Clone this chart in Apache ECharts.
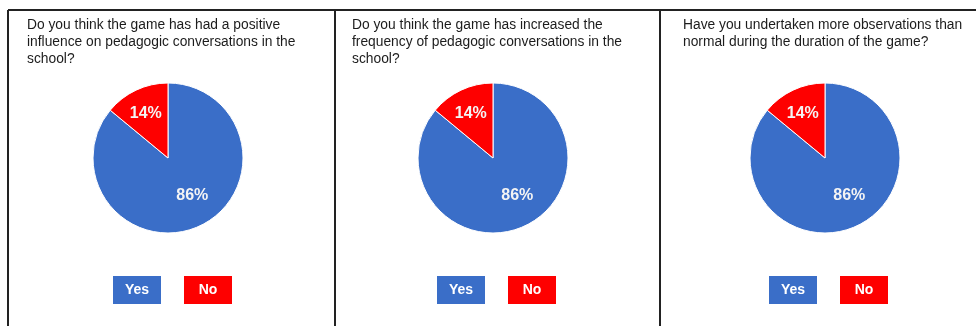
<!DOCTYPE html>
<html>
<head>
<meta charset="utf-8">
<script src="https://cdn.jsdelivr.net/npm/echarts@6/dist/echarts.min.js"></script>
<style>
  html, body { margin: 0; padding: 0; background: #fff; }
  #chart { width: 976px; height: 326px; }
</style>
</head>
<body>
<div id="chart"></div>
<script>
const questions = [
  'Do you think the game has had a positive\ninfluence on pedagogic conversations in the\nschool?',
  'Do you think the game has increased the\nfrequency of pedagogic conversations in the\nschool?',
  'Have you undertaken more observations than\nnormal during the duration of the game?'
];
const categories = ['Yes', 'No'];
const yesValues = [86, 86, 86];
const noValues = [14, 14, 14];

const colors = ['#3a6ec8', '#fe0000'];
const panelCenters = [168, 493, 825];
const titleLefts = [27, 352, 683];
const legendLefts = [108, 432, 764];

const chart = echarts.init(document.getElementById('chart'), null, { renderer: 'canvas' });

const titles = questions.map((q, i) => ({
  text: q,
  left: titleLefts[i],
  top: 17,
  padding: 0,
  textStyle: {
    fontFamily: 'Liberation Sans, Arial, sans-serif',
    fontSize: 13.8,
    fontWeight: 'normal',
    color: '#1c1c1c',
    lineHeight: 17
  }
}));

const boxStyle = (bg) => ({
  backgroundColor: bg,
  width: 48,
  height: 28,
  lineHeight: 28,
  align: 'center',
  fontFamily: 'Liberation Sans, Arial, sans-serif',
  fontSize: 14,
  fontWeight: 'bold',
  color: '#ffffff'
});

const legends = questions.map((q, i) => ({
  left: legendLefts[i],
  top: 276,
  orient: 'horizontal',
  icon: 'none',
  itemWidth: 0,
  itemHeight: 28,
  itemGap: 18,
  selectedMode: false,
  padding: 0,
  data: categories,
  formatter: (name) => (name === categories[0] ? '{y|' + name + '}' : '{n|' + name + '}'),
  textStyle: {
    rich: {
      y: boxStyle(colors[0]),
      n: boxStyle(colors[1])
    }
  }
}));

const series = questions.map((q, i) => ({
  type: 'pie',
  center: [panelCenters[i], 158],
  radius: 75,
  startAngle: 90,
  clockwise: true,
  animation: false,
  silent: true,
  itemStyle: { borderColor: '#ffffff', borderWidth: 1 },
  label: {
    show: true,
    position: 'inside',
    formatter: '{d}%',
    fontFamily: 'Liberation Sans, Arial, sans-serif',
    fontSize: 16,
    fontWeight: 'bold',
    color: '#f4f4f4'
  },
  labelLine: { show: false },
  labelLayout: function (p) {
    return p.dataIndex === 0 ? { dx: 7, dy: 1 } : { dx: -5, dy: -8 };
  },
  data: [
    { name: categories[0], value: yesValues[i], itemStyle: { color: colors[0] } },
    { name: categories[1], value: noValues[i], itemStyle: { color: colors[1] } }
  ]
}));

const lineStyle = { stroke: '#222222', lineWidth: 2 };
const graphic = [
  { type: 'line', shape: { x1: 8, y1: 10, x2: 976, y2: 10 }, style: lineStyle, silent: true },
  { type: 'line', shape: { x1: 8, y1: 10, x2: 8, y2: 326 }, style: lineStyle, silent: true },
  { type: 'line', shape: { x1: 335, y1: 10, x2: 335, y2: 326 }, style: lineStyle, silent: true },
  { type: 'line', shape: { x1: 660, y1: 10, x2: 660, y2: 326 }, style: lineStyle, silent: true }
];

chart.setOption({
  backgroundColor: '#ffffff',
  animation: false,
  title: titles,
  legend: legends,
  series: series,
  graphic: graphic
});
</script>
</body>
</html>
